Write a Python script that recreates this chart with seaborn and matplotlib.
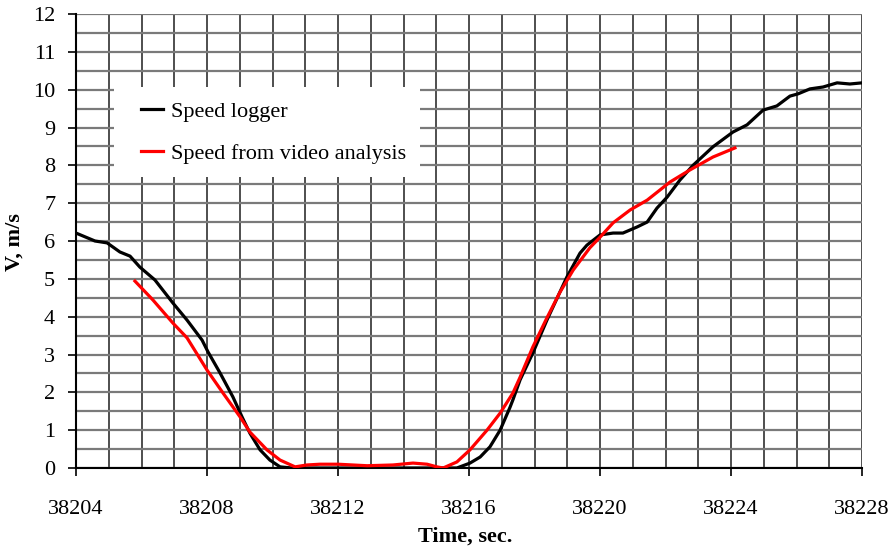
import matplotlib
matplotlib.use("Agg")
import matplotlib.pyplot as plt
from matplotlib.ticker import MultipleLocator
from matplotlib.patches import Rectangle
from matplotlib.lines import Line2D
import seaborn as sns
import pandas as pd

# ---- data ----
logger_t = [38204.0, 38204.58, 38204.95, 38205.34, 38205.65, 38205.95, 38206.41, 38206.96,
            38207.39, 38207.85, 38208.03, 38208.40, 38208.79, 38209.07, 38209.31, 38209.62,
            38209.92, 38210.23, 38210.6, 38211.0, 38212.0, 38213.0, 38214.0, 38215.0, 38215.63,
            38216.03, 38216.34, 38216.64, 38216.95, 38217.25, 38217.34, 38217.56, 38217.95,
            38218.38, 38218.99, 38219.39, 38219.60, 38220.0, 38220.40, 38220.70, 38221.13,
            38221.44, 38221.74, 38222.05, 38222.44, 38222.84, 38223.45, 38224.06, 38224.49,
            38224.98, 38225.40, 38225.80, 38226.05, 38226.41, 38226.81, 38227.24, 38227.63,
            38228.0]
logger_v = [6.21, 6.00, 5.95, 5.71, 5.60, 5.31, 4.97, 4.36,
            3.91, 3.38, 3.07, 2.51, 1.88, 1.35, 0.92, 0.48,
            0.21, 0.03, 0.0, 0.0, 0.0, 0.0, 0.0, 0.0, 0.0,
            0.13, 0.29, 0.56, 1.00, 1.60, 1.80, 2.33, 3.04,
            3.91, 5.05, 5.68, 5.89, 6.16, 6.21, 6.21, 6.37,
            6.50, 6.87, 7.16, 7.61, 8.00, 8.49, 8.88, 9.07,
            9.46, 9.57, 9.83, 9.89, 10.02, 10.07, 10.18, 10.15,
            10.18]

video_t = [38205.80, 38206.35, 38206.96, 38207.39, 38208.0, 38208.49, 38209.01, 38209.31,
           38209.83, 38210.23, 38210.69, 38211.05, 38211.45, 38212.0, 38212.89, 38213.68,
           38214.29, 38214.72, 38215.02, 38215.21, 38215.63, 38216.03, 38216.55, 38216.95,
           38217.34, 38217.56, 38217.95, 38218.38, 38218.78, 38219.18, 38219.69, 38220.0,
           38220.40, 38220.92, 38221.44, 38222.14, 38222.75, 38223.45, 38224.12]
video_v = [4.94, 4.44, 3.83, 3.44, 2.59, 1.98, 1.35, 0.95,
           0.48, 0.21, 0.03, 0.08, 0.10, 0.10, 0.06, 0.08,
           0.13, 0.10, 0.03, 0.00, 0.16, 0.48, 1.00, 1.45,
           1.98, 2.40, 3.20, 3.97, 4.65, 5.23, 5.82, 6.10,
           6.48, 6.82, 7.08, 7.56, 7.88, 8.22, 8.46]

series_names = ["Speed logger", "Speed from video analysis"]
x_ticks = [38204, 38208, 38212, 38216, 38220, 38224, 38228]
y_ticks = list(range(0, 13))

df = pd.concat([
    pd.DataFrame({"t": logger_t, "v": logger_v, "series": series_names[0]}),
    pd.DataFrame({"t": video_t, "v": video_v, "series": series_names[1]}),
], ignore_index=True)

plt.rcParams["font.family"] = ["Liberation Serif", "DejaVu Serif"]
plt.rcParams["font.size"] = 16

fig = plt.figure(figsize=(8.9, 5.52), dpi=100)
ax = fig.add_axes([76 / 890, 84 / 552, 786 / 890, 454 / 552])

sns.lineplot(data=df, x="t", y="v", hue="series", sort=False,
             palette={series_names[0]: "#000000", series_names[1]: "#ff0000"},
             linewidth=2.3, ax=ax, legend=False, zorder=3)

ax.set_xlim(38204, 38228)
ax.set_ylim(0, 12)
ax.set_xticks(x_ticks)
ax.set_xticklabels([str(v) for v in x_ticks])
ax.set_yticks(y_ticks)
ax.xaxis.set_minor_locator(MultipleLocator(1))
ax.yaxis.set_minor_locator(MultipleLocator(0.5))
ax.tick_params(axis="both", which="major", direction="out", length=6, width=1.2,
               color="black", labelsize=16)
ax.tick_params(axis="x", which="major", pad=17)
ax.tick_params(axis="y", which="major", pad=9)
ax.tick_params(axis="both", which="minor", length=0)

ax.grid(which="both", axis="x", color="#1e1e1e", linewidth=1.1, zorder=1)
ax.grid(which="both", axis="y", color="#7a7a7a", linewidth=1.6, zorder=1)
ax.set_axisbelow(True)

for s in ["top", "right"]:
    ax.spines[s].set_visible(False)
for s in ["left", "bottom"]:
    ax.spines[s].set_color("black")
    ax.spines[s].set_linewidth(1.5)

ax.set_xlabel("Time, sec.", fontsize=16, fontweight="bold")
ax.set_ylabel("V, m/s", fontsize=16, fontweight="bold")
ax.xaxis.set_label_coords(0.495, -0.130)
ax.yaxis.set_label_coords(-0.066, 0.498)

# legend background box
ax.add_patch(Rectangle((0.048, 0.641), 0.39, 0.198, transform=ax.transAxes,
                       facecolor="white", edgecolor="none", zorder=2))
handles = [Line2D([], [], color="#000000", linewidth=2.3),
           Line2D([], [], color="#ff0000", linewidth=2.3)]
ax.legend(handles, series_names, loc="center left", bbox_to_anchor=(0.0827, 0.739),
          frameon=False, borderaxespad=0, borderpad=0, handlelength=1.0,
          handletextpad=0.35, labelspacing=0.95, fontsize=16)

fig.savefig("out.png", dpi=100)
